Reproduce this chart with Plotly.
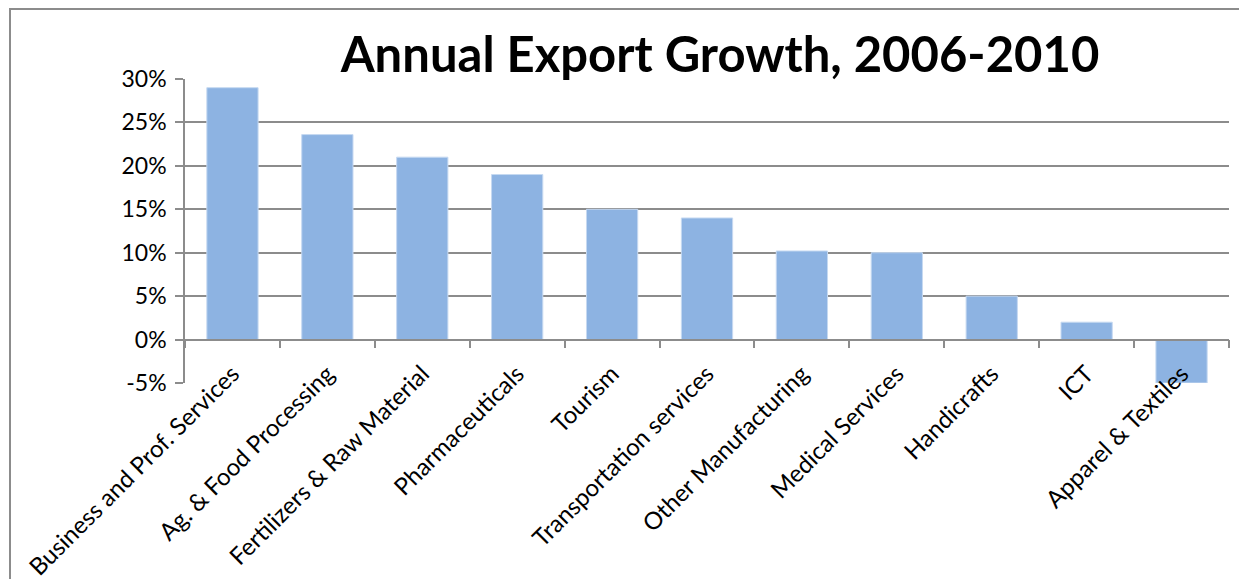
import plotly.graph_objects as go

categories = ["Business and Prof. Services", "Ag. & Food Processing", "Fertilizers & Raw Material",
              "Pharmaceuticals", "Tourism", "Transportation services", "Other Manufacturing",
              "Medical Services", "Handicrafts", "ICT", "Apparel & Textiles"]
growth = [0.29, 0.236, 0.21, 0.19, 0.15, 0.14, 0.102, 0.10, 0.05, 0.02, -0.05]
y_ticks = [-0.05, 0, 0.05, 0.10, 0.15, 0.20, 0.25, 0.30]
y_tick_labels = ["-5%", "0%", "5%", "10%", "15%", "20%", "25%", "30%"]

W, H = 1247, 579
OFF = 8  # default page body margin
L, T = 185 - OFF, 79 - OFF
pw, ph = 1044, 304
R = W - L - pw
B = H - T - ph
grid = "#8c8c8c"
font = "Lato, 'Open Sans', sans-serif"

fig = go.Figure(go.Bar(
    x=categories, y=growth,
    marker=dict(color="#8DB3E2", line=dict(color="#C6D9F1", width=1)),
    width=0.54,
))

fig.update_layout(
    width=W, height=H,
    margin=dict(l=L, r=R, t=T, b=B, autoexpand=False),
    paper_bgcolor="white", plot_bgcolor="white",
    showlegend=False,
    font=dict(family=font, color="black", size=23),
    title=dict(text="<b>Annual Export Growth, 2006-2010</b>",
               x=(720 - OFF) / W, xanchor="center", y=1 - (55 - OFF) / H, yanchor="middle",
               font=dict(family=font, size=49, color="black")),
    yaxis=dict(range=[-0.05, 0.30], tickvals=y_ticks, ticktext=y_tick_labels,
               showgrid=True, gridcolor=grid, gridwidth=1.5,
               showline=True, linecolor=grid, linewidth=1.5,
               ticks="outside", ticklen=8, tickcolor=grid, tickwidth=1.5,
               zeroline=False, tickfont=dict(size=23), ticklabelstandoff=4,
               fixedrange=True),
    xaxis=dict(anchor="free", position=5 / 35, tickangle=-45,
               tickson="boundaries", ticks="outside", ticklen=8, tickcolor=grid, tickwidth=1.5,
               showline=True, linecolor=grid, linewidth=1.5, showgrid=False,
               ticklabelstandoff=10, tickfont=dict(size=24), fixedrange=True),
    shapes=[dict(type="rect", xref="paper", yref="paper",
                 x0=(10 - OFF - L) / pw, x1=(W + 20 - L) / pw,
                 y0=-(H + 20 - T - ph) / ph, y1=1 + (T - (9 - OFF)) / ph,
                 line=dict(color="#8c8c8c", width=2), layer="below")],
)

fig.write_html("out.html")
